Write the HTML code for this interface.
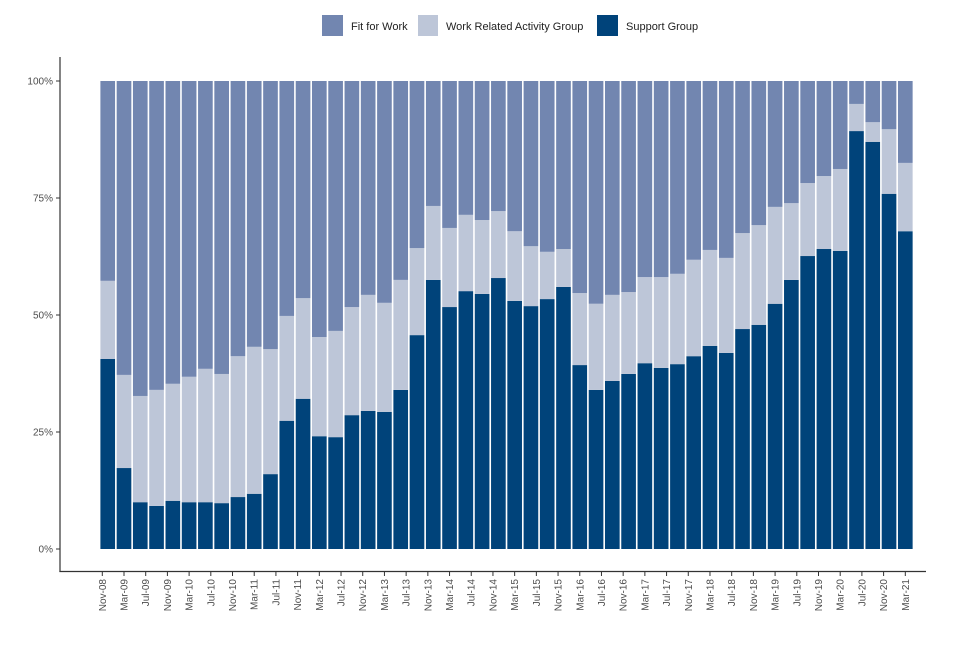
<!DOCTYPE html>
<html><head><meta charset="utf-8">
<style>
body{margin:0;background:#fff;font-family:"Liberation Sans",sans-serif;}
svg text{font-family:"Liberation Sans",sans-serif;}
</style></head>
<body>
<svg id="chart" width="960" height="640" viewBox="0 0 960 640">
<g>
  <rect x="322" y="15" width="21" height="21" fill="#7286b0"/>
  <text x="351" y="30" font-size="11" fill="#222">Fit for Work</text>
  <rect x="418" y="15" width="20" height="21" fill="#bdc6d8"/>
  <text x="446" y="30" font-size="11" fill="#222">Work Related Activity Group</text>
  <rect x="597" y="15" width="21" height="21" fill="#00437a"/>
  <text x="626" y="30" font-size="11" fill="#222">Support Group</text>
</g>
<g id="bars"></g>
<g id="axes"></g>
</svg>
<script>
const supportGroup=[40.6,17.3,10.0,9.2,10.3,10.0,10.0,9.8,11.1,11.8,16.0,27.4,32.1,24.1,23.9,28.6,29.5,29.3,34.0,45.7,57.5,51.7,55.1,54.5,57.9,53.0,51.9,53.4,56.0,39.3,34.0,35.9,37.4,39.7,38.7,39.5,41.2,43.4,41.9,47.0,47.9,52.4,57.5,62.6,64.1,63.7,89.3,87.0,75.9,67.9];
const workRelated=[16.7,19.9,22.7,24.8,25.0,26.8,28.5,27.6,30.1,31.4,26.7,22.4,21.5,21.2,22.7,23.1,24.8,23.3,23.5,18.6,15.8,16.9,16.3,15.8,14.3,14.9,12.8,10.1,8.1,15.4,18.4,18.4,17.5,18.4,19.4,19.3,20.6,20.5,20.3,20.5,21.3,20.7,16.4,15.6,15.6,17.5,5.8,4.2,13.8,14.6];
const yTicks=[0,25,50,75,100];
const xTickLabels=["Nov-08","Mar-09","Jul-09","Nov-09","Mar-10","Jul-10","Nov-10","Mar-11","Jul-11","Nov-11","Mar-12","Jul-12","Nov-12","Mar-13","Jul-13","Nov-13","Mar-14","Jul-14","Nov-14","Mar-15","Jul-15","Nov-15","Mar-16","Jul-16","Nov-16","Mar-17","Jul-17","Nov-17","Mar-18","Jul-18","Nov-18","Mar-19","Jul-19","Nov-19","Mar-20","Jul-20","Nov-20","Mar-21"];

const NS="http://www.w3.org/2000/svg";
const monthPx=5.4257, x0=102.3;
function xScale(m){return x0+m*monthPx;} // months since Nov-08
function yScale(v){return 549-v*4.68;}
const bars=document.getElementById('bars');
const axes=document.getElementById('axes');
function mk(tag,attrs,parent){const e=document.createElementNS(NS,tag);for(const k in attrs)e.setAttribute(k,attrs[k]);parent.appendChild(e);return e;}
const bw=3*monthPx*0.9;
supportGroup.forEach((sg,i)=>{
  const wr=workRelated[i];
  const fit=100-sg-wr;
  const cx=xScale(1+3*i);
  const segs=[[0,sg,'#00437a','support-group'],[sg,sg+wr,'#bdc6d8','work-related-activity-group'],[sg+wr,sg+wr+fit,'#7286b0','fit-for-work']];
  segs.forEach(s=>{
    const r=mk('rect',{x:cx-bw/2,y:yScale(s[1]),width:bw,height:yScale(s[0])-yScale(s[1]),fill:s[2]},bars);
    
    
  });
});
// axes lines
const yl=mk('line',{x1:60,y1:57,x2:60,y2:572,stroke:'#333','stroke-width':1.2},axes);


const xl=mk('line',{x1:59.4,y1:571.5,x2:926,y2:571.5,stroke:'#333','stroke-width':1.2},axes);


yTicks.forEach(v=>{
  const y=yScale(v);
  const t=mk('line',{x1:56,y1:y,x2:60,y2:y,stroke:'#333','stroke-width':1},axes);
  
  
  const l=mk('text',{x:53,y:y+3.5,'font-size':10,fill:'#4d4d4d','text-anchor':'end'},axes);
  l.textContent=v+'%';
  
  
});
xTickLabels.forEach((lab,i)=>{
  const x=xScale(4*i);
  const t=mk('line',{x1:x,y1:572,x2:x,y2:576,stroke:'#333','stroke-width':1},axes);
  
  
  const l=mk('text',{x:0,y:0,'font-size':10,fill:'#4d4d4d','text-anchor':'end',transform:`translate(${x+3.5},579) rotate(-90)`},axes);
  l.textContent=lab;
  
  
});
</script>
</body></html>
